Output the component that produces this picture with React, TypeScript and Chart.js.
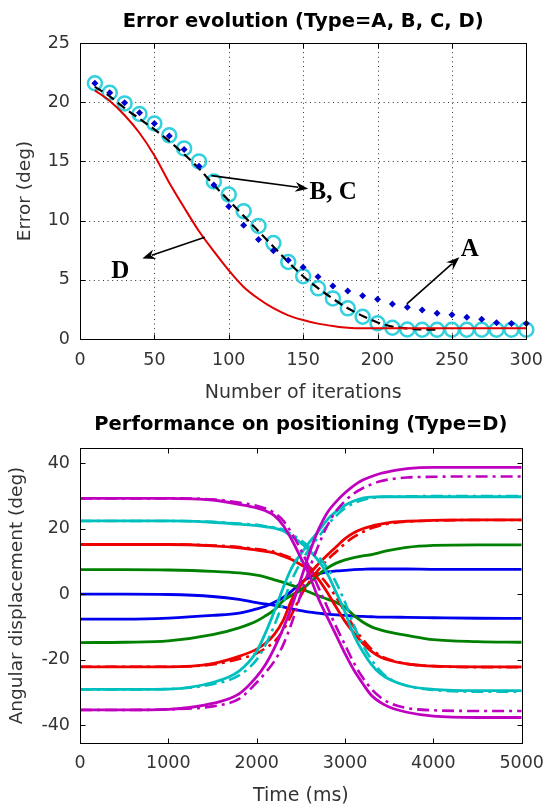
import React, { useEffect, useRef } from "react";
import { Chart, registerables } from "chart.js";

Chart.register(...registerables);

const SANS = "'DejaVu Sans', sans-serif";
const SERIF = "'Liberation Serif', 'Times New Roman', serif";

// ---------- Top chart: Error evolution ----------
const iterations = [10, 20, 30, 40, 50, 60, 70, 80, 90, 100, 110, 120, 130, 140, 150, 160, 170, 180, 190, 200, 210, 220, 230, 240, 250, 260, 270, 280, 290, 300];
const iterationsB = [10, 20, 30, 40, 50, 60, 70, 80, 90, 100, 110, 120, 130, 140, 150, 160, 170, 180, 190, 200, 210, 220, 230, 240];
const errorA = [21.6, 20.8, 19.96, 19.1, 18.2, 17.15, 16.0, 14.6, 13.0, 11.2, 9.6, 8.4, 7.45, 6.65, 6.05, 5.26, 4.48, 4.05, 3.66, 3.35, 2.96, 2.68, 2.45, 2.17, 2.05, 1.83, 1.66, 1.38, 1.3, 1.3];
const errorB = [21.3, 20.5, 19.5, 18.6, 17.7, 16.7, 15.6, 14.4, 13.0, 11.7, 10.4, 9.1, 7.8, 6.5, 5.3, 4.3, 3.4, 2.6, 1.95, 1.4, 1.05, 0.9, 0.8, 0.8];
const errorC = [21.6, 20.8, 19.9, 19.0, 18.2, 17.2, 16.1, 15.0, 13.3, 12.2, 10.8, 9.55, 8.1, 6.5, 5.3, 4.28, 3.43, 2.59, 1.88, 1.32, 0.95, 0.8, 0.78, 0.78, 0.78, 0.78, 0.78, 0.78, 0.78, 0.78];
const errorD = [21.0, 20.1, 18.9, 17.4, 15.5, 13.2, 11.1, 9.1, 7.4, 5.8, 4.4, 3.4, 2.6, 2.0, 1.6, 1.3, 1.1, 0.95, 0.9, 0.9, 0.9, 0.9, 0.9, 0.9, 0.9, 0.9, 0.9, 0.9, 0.9, 0.9];
const topXTicks = [0, 50, 100, 150, 200, 250, 300];
const topYTicks = [0, 5, 10, 15, 20, 25];

// annotation labels with arrows (data coordinates)
const annLabels = ["B, C", "A", "D"];
const annLabelX = [154.3, 256, 21];
const annLabelY = [11.8, 7.0, 5.18];
const annFromX = [88.3, 219.7, 83.9];
const annFromY = [13.8, 2.96, 8.59];
const annToX = [153.4, 255, 41.9];
const annToY = [12.7, 6.9, 6.8];

// ---------- Bottom chart: Performance on positioning ----------
const timeMs = [0, 500, 1000, 1500, 1800, 2000, 2100, 2200, 2300, 2400, 2500, 2600, 2700, 2800, 2900, 3000, 3100, 3200, 3300, 3400, 3500, 3700, 4000, 4500, 5000];
const magentaDown = [29.3, 29.3, 29.3, 28.8, 27.5, 26.4, 25.5, 24.0, 21.0, 16.5, 11.1, 5.5, -1.4, -7.1, -12.6, -18.2, -23.2, -27.3, -31.0, -33.1, -34.5, -36.1, -37.3, -37.7, -37.7];
const magentaDownRef = [29.3, 29.3, 29.3, 29.0, 28.0, 27.0, 26.2, 24.8, 22.5, 18.5, 13.5, 8.0, 2.0, -4.0, -10.0, -15.5, -21.0, -25.5, -29.0, -31.5, -33.2, -34.8, -35.5, -35.7, -35.7];
const magentaUp = [-35.4, -35.4, -35.2, -33.4, -30.5, -25.2, -21.5, -16.5, -10.5, -3.5, 4.6, 12.8, 19.8, 25.0, 28.3, 31.0, 33.2, 34.9, 36.0, 36.9, 37.5, 38.4, 38.8, 38.8, 38.8];
const magentaUpRef = [-35.4, -35.4, -35.2, -34.3, -32.0, -27.0, -24.0, -20.5, -15.5, -8.5, 0.0, 8.0, 15.0, 21.0, 25.5, 28.5, 30.8, 32.4, 33.6, 34.5, 35.1, 35.7, 35.9, 36.0, 36.0];
const cyanDown = [22.4, 22.4, 22.4, 22.0, 21.4, 21.0, 20.6, 20.2, 19.4, 17.6, 15.7, 13.3, 10.2, 6.2, 0.5, -5.5, -12.5, -17.5, -21.5, -24.3, -26.0, -28.0, -29.1, -29.5, -29.5];
const cyanDownRef = [22.4, 22.4, 22.4, 22.1, 21.6, 21.2, 20.8, 20.4, 19.7, 18.2, 16.5, 14.3, 11.5, 8.0, 3.5, -2.5, -9.5, -15.5, -20.0, -23.5, -25.8, -28.0, -29.3, -29.8, -29.8];
const cyanUp = [-29.1, -29.1, -29.0, -27.0, -23.5, -17.5, -11.8, -5.2, 2.0, 8.3, 12.3, 16.0, 19.3, 22.8, 25.3, 27.2, 28.5, 29.4, 29.7, 29.8, 29.8, 29.8, 29.8, 29.8, 29.8];
const cyanUpRef = [-29.1, -29.1, -29.0, -27.5, -24.8, -20.0, -15.5, -9.5, -2.5, 4.5, 9.8, 14.0, 17.5, 21.0, 24.0, 26.3, 27.8, 28.8, 29.4, 29.7, 29.8, 29.9, 30.0, 30.0, 30.0];
const redDown = [15.2, 15.2, 15.2, 14.8, 14.2, 13.5, 13.1, 12.6, 11.6, 10.5, 9.0, 7.5, 4.5, 0.5, -4.0, -8.3, -11.8, -15.0, -17.5, -19.2, -20.2, -21.3, -22.0, -22.2, -22.2];
const redDownRef = [15.2, 15.2, 15.2, 14.9, 14.4, 13.8, 13.4, 12.9, 12.0, 11.0, 9.7, 8.2, 6.0, 3.0, -1.0, -5.5, -10.0, -13.8, -16.8, -18.8, -20.0, -21.3, -22.0, -22.3, -22.3];
const redUp = [-22.2, -22.2, -22.2, -21.2, -19.0, -16.8, -15.0, -12.3, -8.0, -1.5, 2.8, 6.2, 9.3, 12.0, 14.5, 17.0, 18.8, 20.0, 20.8, 21.4, 21.9, 22.3, 22.6, 22.7, 22.7];
const redUpRef = [-22.2, -22.2, -22.2, -21.5, -19.8, -18.1, -16.5, -14.5, -11.0, -6.0, -0.5, 4.0, 7.5, 10.5, 13.0, 15.5, 17.5, 19.0, 20.2, 21.0, 21.6, 22.2, 22.5, 22.7, 22.7];
const greenDown = [7.5, 7.5, 7.4, 7.0, 6.5, 5.8, 5.2, 4.4, 3.6, 2.7, 1.7, 0.6, -0.5, -1.5, -2.5, -4.0, -6.5, -8.5, -10.0, -10.9, -11.6, -12.6, -13.9, -14.5, -14.7];
const greenUp = [-14.8, -14.7, -14.3, -12.4, -10.3, -8.2, -6.6, -4.8, -2.0, -0.2, 1.2, 3.5, 6.0, 8.0, 9.5, 10.5, 11.2, 11.7, 12.1, 12.8, 13.4, 14.3, 14.9, 15.1, 15.1];
const blueDown = [0.0, 0.0, -0.1, -0.7, -1.6, -2.6, -3.0, -3.4, -3.9, -4.6, -5.0, -5.5, -5.8, -6.1, -6.3, -6.5, -6.7, -6.8, -6.9, -7.0, -7.0, -7.1, -7.2, -7.35, -7.4];
const blueUp = [-7.6, -7.6, -7.3, -6.5, -5.8, -4.5, -3.7, -2.5, -1.0, 1.0, 3.5, 5.2, 6.2, 6.8, 7.1, 7.3, 7.5, 7.6, 7.7, 7.7, 7.7, 7.7, 7.6, 7.6, 7.6];
const bottomXTicks = [0, 1000, 2000, 3000, 4000, 5000];
const bottomYTicks = [-40, -20, 0, 20, 40];

const MAGENTA = "#bf00bf";
const CYAN = "#00bfbf";
const RED = "#ee0000";
const GREEN = "#008000";
const BLUE = "#0000ee";

const pts = (xs: number[], ys: number[]) => xs.map((x, i) => ({ x, y: ys[i] }));

function makeFramePlugin(xTicks: number[], yTicks: number[], grid: boolean) {
  return {
    id: "matlabFrame",
    beforeDatasetsDraw(chart: any) {
      if (!grid) return;
      const { ctx, chartArea: a, scales } = chart;
      ctx.save();
      ctx.strokeStyle = "#333";
      ctx.lineWidth = 1;
      ctx.setLineDash([1, 3.6]);
      xTicks.slice(1, -1).forEach((v) => {
        const px = Math.round(scales.x.getPixelForValue(v)) + 0.5;
        ctx.beginPath();
        ctx.moveTo(px, a.top);
        ctx.lineTo(px, a.bottom);
        ctx.stroke();
      });
      yTicks.slice(1, -1).forEach((v) => {
        const py = Math.round(scales.y.getPixelForValue(v)) + 0.5;
        ctx.beginPath();
        ctx.moveTo(a.left, py);
        ctx.lineTo(a.right, py);
        ctx.stroke();
      });
      ctx.restore();
    },
    afterDraw(chart: any) {
      const { ctx, chartArea: a, scales } = chart;
      ctx.save();
      ctx.strokeStyle = "#000";
      ctx.lineWidth = 1;
      ctx.setLineDash([]);
      const l = Math.round(a.left) + 0.5;
      const r = Math.round(a.right) + 0.5;
      const t = Math.round(a.top) + 0.5;
      const b = Math.round(a.bottom) + 0.5;
      ctx.strokeRect(l, t, r - l, b - t);
      const len = 5;
      ctx.beginPath();
      xTicks.forEach((v) => {
        const px = Math.round(scales.x.getPixelForValue(v)) + 0.5;
        ctx.moveTo(px, b);
        ctx.lineTo(px, b - len);
        ctx.moveTo(px, t);
        ctx.lineTo(px, t + len);
      });
      yTicks.forEach((v) => {
        const py = Math.round(scales.y.getPixelForValue(v)) + 0.5;
        ctx.moveTo(l, py);
        ctx.lineTo(l + len, py);
        ctx.moveTo(r, py);
        ctx.lineTo(r - len, py);
      });
      ctx.stroke();
      ctx.restore();
    },
  };
}

const annotationPlugin = {
  id: "arrows",
  afterDatasetsDraw(chart: any) {
    const { ctx, scales } = chart;
    ctx.save();
    ctx.strokeStyle = "#000";
    ctx.fillStyle = "#000";
    ctx.lineWidth = 1.6;
    annLabels.forEach((label, i) => {
      const x0 = scales.x.getPixelForValue(annFromX[i]);
      const y0 = scales.y.getPixelForValue(annFromY[i]);
      const x1 = scales.x.getPixelForValue(annToX[i]);
      const y1 = scales.y.getPixelForValue(annToY[i]);
      const ang = Math.atan2(y1 - y0, x1 - x0);
      const hl = 13;
      const hw = 5;
      const bx = x1 - hl * Math.cos(ang);
      const by = y1 - hl * Math.sin(ang);
      ctx.beginPath();
      ctx.moveTo(x0, y0);
      ctx.lineTo(bx + 3 * Math.cos(ang), by + 3 * Math.sin(ang));
      ctx.stroke();
      ctx.beginPath();
      ctx.moveTo(x1, y1);
      ctx.lineTo(bx - hw * Math.sin(ang), by + hw * Math.cos(ang));
      ctx.lineTo(bx + 4 * Math.cos(ang), by + 4 * Math.sin(ang));
      ctx.lineTo(bx + hw * Math.sin(ang), by - hw * Math.cos(ang));
      ctx.closePath();
      ctx.fill();
      ctx.font = `bold 25px ${SERIF}`;
      ctx.textAlign = "left";
      ctx.textBaseline = "alphabetic";
      ctx.fillText(label, scales.x.getPixelForValue(annLabelX[i]), scales.y.getPixelForValue(annLabelY[i]));
    });
    ctx.restore();
  },
};

function topConfig(): any {
  return {
    type: "scatter",
    data: {
      datasets: [
        {
          label: "D",
          data: pts(iterations, errorD),
          showLine: true,
          borderColor: "#e00000",
          borderWidth: 2,
          pointRadius: 0,
          cubicInterpolationMode: "monotone",
        },
        {
          label: "A",
          data: pts(iterations, errorA),
          showLine: false,
          pointStyle: "rectRot",
          pointRadius: 3.5,
          backgroundColor: "#0000cc",
          borderColor: "#0000cc",
          borderWidth: 0,
          clip: false,
        },
        {
          label: "B",
          data: pts(iterationsB, errorB),
          showLine: true,
          borderColor: "#000",
          borderWidth: 2.2,
          borderDash: [9, 5],
          pointRadius: 0,
          cubicInterpolationMode: "monotone",
        },
        {
          label: "C",
          data: pts(iterations, errorC),
          showLine: false,
          pointStyle: "circle",
          pointRadius: 7,
          borderColor: "#33d0dd",
          backgroundColor: "rgba(0,0,0,0)",
          borderWidth: 2.5,
          clip: false,
        },
      ],
    },
    options: {
      animation: false,
      responsive: false,
      events: [],
      layout: { padding: { left: 0, right: 21, top: 0, bottom: 0 } },
      plugins: {
        legend: { display: false },
        tooltip: { enabled: false },
        title: {
          display: true,
          fullSize: false,
          text: "Error evolution (Type=A, B, C, D)",
          color: "#000",
          font: { family: SANS, size: 19.5, weight: "bold" },
          padding: { top: 9.8, bottom: 9.8 },
        },
      },
      scales: {
        x: {
          type: "linear",
          min: 0,
          max: 300,
          afterBuildTicks: (s: any) => {
            s.ticks = topXTicks.map((v) => ({ value: v }));
          },
          afterFit: (s: any) => {
            s.height = 404 - 339;
          },
          grid: { display: false, drawTicks: false },
          border: { display: false },
          ticks: {
            autoSkip: false,
            maxRotation: 0,
            padding: 11,
            color: "#333",
            font: { family: SANS, size: 17.5 },
            callback: (v: any) => String(v),
          },
          title: {
            display: true,
            text: "Number of iterations",
            color: "#333",
            font: { family: SANS, size: 19 },
            padding: { top: 0, bottom: 0 },
          },
        },
        y: {
          type: "linear",
          min: 0,
          max: 25,
          afterBuildTicks: (s: any) => {
            s.ticks = topYTicks.map((v) => ({ value: v }));
          },
          afterFit: (s: any) => {
            s.width = 80;
          },
          grid: { display: false, drawTicks: false },
          border: { display: false },
          ticks: {
            autoSkip: false,
            padding: 10,
            color: "#333",
            font: { family: SANS, size: 17.5 },
            callback: (v: any) => String(v),
          },
          title: {
            display: true,
            text: "Error (deg)",
            color: "#333",
            font: { family: SANS, size: 18.5 },
            padding: { top: 14, bottom: 0 },
          },
        },
      },
    },
    plugins: [makeFramePlugin(topXTicks, topYTicks, true), annotationPlugin],
  };
}

function bottomConfig(): any {
  const series: [number[], string, boolean][] = [
    [magentaDown, MAGENTA, false],
    [magentaUp, MAGENTA, false],
    [magentaDownRef, MAGENTA, true],
    [magentaUpRef, MAGENTA, true],
    [cyanDown, CYAN, false],
    [cyanUp, CYAN, false],
    [cyanDownRef, CYAN, true],
    [cyanUpRef, CYAN, true],
    [redDown, RED, false],
    [redUp, RED, false],
    [redDownRef, RED, true],
    [redUpRef, RED, true],
    [greenDown, GREEN, false],
    [greenUp, GREEN, false],
    [blueDown, BLUE, false],
    [blueUp, BLUE, false],
  ];
  return {
    type: "scatter",
    data: {
      datasets: series.map(([vals, color, dashed]) => ({
        data: pts(timeMs, vals),
        showLine: true,
        borderColor: color,
        borderWidth: dashed ? 2.6 : 2.8,
        borderDash: dashed ? [12, 5, 3, 5] : [],
        pointRadius: 0,
        cubicInterpolationMode: "monotone",
      })),
    },
    options: {
      animation: false,
      responsive: false,
      events: [],
      layout: { padding: { left: 0, right: 21, top: 0, bottom: 0 } },
      plugins: {
        legend: { display: false },
        tooltip: { enabled: false },
        title: {
          display: true,
          fullSize: false,
          text: "Performance on positioning (Type=D)",
          color: "#000",
          font: { family: SANS, size: 19.5, weight: "bold" },
          padding: { top: 13.3, bottom: 11.3 },
        },
      },
      scales: {
        x: {
          type: "linear",
          min: 0,
          max: 5000,
          afterBuildTicks: (s: any) => {
            s.ticks = bottomXTicks.map((v) => ({ value: v }));
          },
          afterFit: (s: any) => {
            s.height = 407 - 343;
          },
          grid: { display: false, drawTicks: false },
          border: { display: false },
          ticks: {
            autoSkip: false,
            maxRotation: 0,
            padding: 10,
            color: "#333",
            font: { family: SANS, size: 17.5 },
            callback: (v: any) => String(v),
          },
          title: {
            display: true,
            text: "Time (ms)",
            color: "#333",
            font: { family: SANS, size: 19 },
            padding: { top: 0, bottom: 0 },
          },
        },
        y: {
          type: "linear",
          min: -45.5,
          max: 44.7,
          afterBuildTicks: (s: any) => {
            s.ticks = bottomYTicks.map((v) => ({ value: v }));
          },
          afterFit: (s: any) => {
            s.width = 80;
          },
          grid: { display: false, drawTicks: false },
          border: { display: false },
          ticks: {
            autoSkip: false,
            padding: 10,
            color: "#333",
            font: { family: SANS, size: 17.5 },
            callback: (v: any) => String(v),
          },
          title: {
            display: true,
            text: "Angular displacement (deg)",
            color: "#333",
            font: { family: SANS, size: 18.5 },
            padding: { top: 6.4, bottom: 0 },
          },
        },
      },
    },
    plugins: [makeFramePlugin(bottomXTicks, bottomYTicks, false)],
  };
}

export default function App() {
  const topRef = useRef<HTMLCanvasElement>(null);
  const botRef = useRef<HTMLCanvasElement>(null);
  useEffect(() => {
    const c1 = new Chart(topRef.current as HTMLCanvasElement, topConfig());
    const c2 = new Chart(botRef.current as HTMLCanvasElement, bottomConfig());
    return () => {
      c1.destroy();
      c2.destroy();
    };
  }, []);
  return (
    <div style={{ position: "absolute", left: 0, top: 0, width: 554, height: 807, background: "#fff" }}>
      <canvas ref={topRef} width={554} height={404} style={{ position: "absolute", left: 0, top: 0 }} />
      <canvas ref={botRef} width={554} height={407} style={{ position: "absolute", left: 0, top: 400 }} />
    </div>
  );
}
